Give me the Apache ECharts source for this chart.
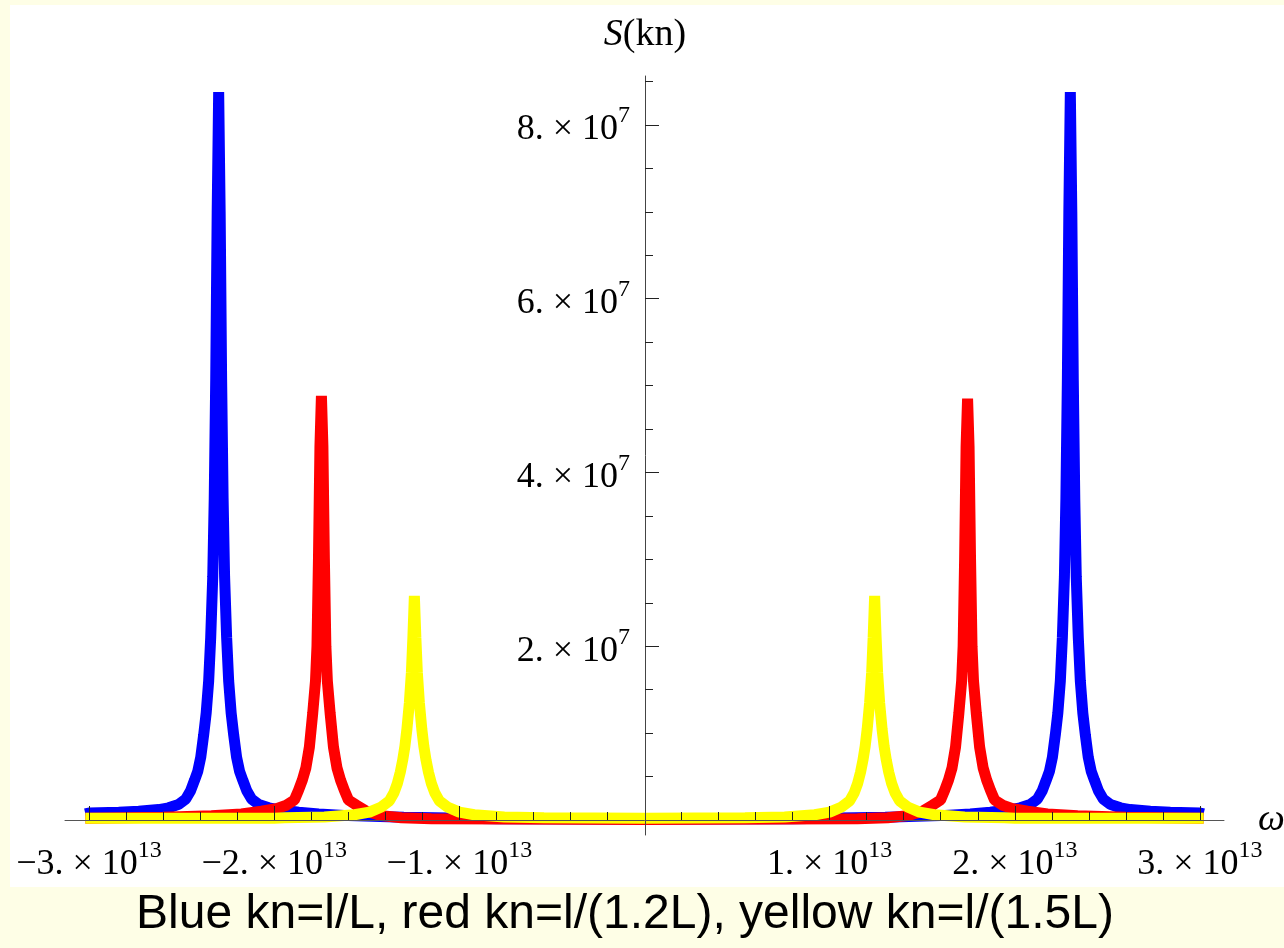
<!DOCTYPE html>
<html>
<head>
<meta charset="utf-8">
<script src="https://cdn.jsdelivr.net/npm/echarts@6/dist/echarts.min.js"></script>
<style>
  html, body { margin: 0; padding: 0; background: #fefee6; }
  #chartRoot { width: 1284px; height: 948px; }
</style>
</head>
<body>
<div id="chartRoot"></div>
<script>
// 单位：ω 以 1e13 计，S 以 1e7 计
const OMEGA_UNIT = 1e13;
const S_UNIT = 1e7;

// 蓝色 kn=l/L
const blueCurve = [
    [-3.02, 0.07], [-3.00, 0.08], [-2.84, 0.09], [-2.732, 0.10], [-2.624, 0.12], [-2.57, 0.14],
    [-2.516, 0.18], [-2.478, 0.24], [-2.451, 0.34], [-2.43, 0.46], [-2.413, 0.56], [-2.397, 0.72],
    [-2.381, 0.98], [-2.3675, 1.23], [-2.354, 1.60], [-2.343, 2.10], [-2.332, 2.80], [-2.324, 3.70],
    [-2.316, 5.06], [-2.308, 7.00], [-2.30, 8.38], [-2.292, 7.00], [-2.284, 5.06], [-2.276, 3.70],
    [-2.268, 2.80], [-2.257, 2.10], [-2.246, 1.60], [-2.2325, 1.23], [-2.219, 0.98], [-2.203, 0.72],
    [-2.187, 0.56], [-2.17, 0.46], [-2.149, 0.34], [-2.122, 0.24], [-2.084, 0.18], [-2.03, 0.14],
    [-1.976, 0.12], [-1.868, 0.09], [-1.76, 0.07], [-1.60, 0.05], [-1.30, 0.03], [-0.80, 0.015],
    [0, 0.01],
    [0.80, 0.015], [1.30, 0.03], [1.60, 0.05], [1.76, 0.07], [1.868, 0.09], [1.976, 0.12],
    [2.03, 0.14], [2.084, 0.18], [2.122, 0.24], [2.149, 0.34], [2.17, 0.46], [2.187, 0.56],
    [2.203, 0.72], [2.219, 0.98], [2.2325, 1.23], [2.246, 1.60], [2.257, 2.10], [2.268, 2.80],
    [2.276, 3.70], [2.284, 5.06], [2.292, 7.00], [2.30, 8.38], [2.308, 7.00], [2.316, 5.06],
    [2.324, 3.70], [2.332, 2.80], [2.343, 2.10], [2.354, 1.60], [2.3675, 1.23], [2.381, 0.98],
    [2.397, 0.72], [2.413, 0.56], [2.43, 0.46], [2.451, 0.34], [2.478, 0.24], [2.516, 0.18],
    [2.57, 0.14], [2.624, 0.12], [2.732, 0.10], [2.84, 0.09], [3.00, 0.08], [3.02, 0.07]
];

// 红色 kn=l/(1.2L)
const redCurve = [
    [-3.02, 0.02], [-2.60, 0.03], [-2.339, 0.05], [-2.177, 0.07], [-2.069, 0.10], [-1.988, 0.13],
    [-1.934, 0.17], [-1.891, 0.23], [-1.869, 0.34], [-1.848, 0.46], [-1.829, 0.60], [-1.81, 0.84],
    [-1.792, 1.23], [-1.777, 1.60], [-1.769, 2.00], [-1.761, 3.00], [-1.753, 4.30], [-1.745, 4.88],
    [-1.737, 4.30], [-1.729, 3.00], [-1.721, 2.00], [-1.713, 1.60], [-1.698, 1.23], [-1.68, 0.84],
    [-1.661, 0.60], [-1.642, 0.46], [-1.621, 0.34], [-1.599, 0.23], [-1.556, 0.17], [-1.502, 0.10],
    [-1.421, 0.05], [-1.313, 0.025], [-1.151, 0.015], [-0.70, 0.01], [0, 0.005],
    [0.70, 0.01], [1.151, 0.015], [1.313, 0.025], [1.421, 0.05], [1.502, 0.10], [1.556, 0.17],
    [1.599, 0.23], [1.621, 0.34], [1.642, 0.46], [1.661, 0.60], [1.68, 0.84], [1.698, 1.23],
    [1.713, 1.60], [1.721, 2.00], [1.729, 3.00], [1.737, 4.30], [1.745, 4.85], [1.753, 4.30],
    [1.761, 3.00], [1.769, 2.00], [1.777, 1.60], [1.792, 1.23], [1.81, 0.84], [1.829, 0.60],
    [1.848, 0.46], [1.869, 0.34], [1.891, 0.23], [1.934, 0.17], [1.988, 0.13], [2.069, 0.10],
    [2.177, 0.07], [2.339, 0.05], [2.60, 0.03], [3.02, 0.02]
];

// 黄色 kn=l/(1.5L)
const yellowCurve = [
    [-3.02, 0.02], [-2.00, 0.02], [-1.943, 0.025], [-1.729, 0.035], [-1.567, 0.06], [-1.486, 0.09],
    [-1.421, 0.15], [-1.378, 0.22], [-1.354, 0.31], [-1.335, 0.42], [-1.319, 0.55], [-1.306, 0.69],
    [-1.294, 0.85], [-1.283, 1.05], [-1.27, 1.35], [-1.259, 1.70], [-1.251, 2.10], [-1.243, 2.58],
    [-1.235, 2.10], [-1.227, 1.70], [-1.216, 1.35], [-1.203, 1.05], [-1.192, 0.85], [-1.18, 0.69],
    [-1.167, 0.55], [-1.151, 0.42], [-1.132, 0.31], [-1.108, 0.22], [-1.065, 0.15], [-1.00, 0.09],
    [-0.919, 0.06], [-0.757, 0.035], [-0.543, 0.025], [0, 0.02],
    [0.543, 0.025], [0.757, 0.035], [0.919, 0.06], [1.00, 0.09], [1.065, 0.15], [1.108, 0.22],
    [1.132, 0.31], [1.151, 0.42], [1.167, 0.55], [1.18, 0.69], [1.192, 0.85], [1.203, 1.05],
    [1.216, 1.35], [1.227, 1.70], [1.235, 2.10], [1.243, 2.58], [1.251, 2.10], [1.259, 1.70],
    [1.27, 1.35], [1.283, 1.05], [1.294, 0.85], [1.306, 0.69], [1.319, 0.55], [1.335, 0.42],
    [1.354, 0.31], [1.378, 0.22], [1.421, 0.15], [1.486, 0.09], [1.567, 0.06], [1.729, 0.035],
    [1.943, 0.025], [2.00, 0.02], [3.02, 0.02]
];

// 刻度
const xMajorTicks = [-3, -2, -1, 1, 2, 3];
const xMinorTicks = [-2.8, -2.6, -2.4, -2.2, -1.8, -1.6, -1.4, -1.2, -0.8, -0.6, -0.4, -0.2,
    0.2, 0.4, 0.6, 0.8, 1.2, 1.4, 1.6, 1.8, 2.2, 2.4, 2.6, 2.8];
const yMajorTicks = [2, 4, 6, 8];
const yMinorTicks = [0.5, 1, 1.5, 2.5, 3, 3.5, 4.5, 5, 5.5, 6.5, 7, 7.5, 8.5];

const caption = "Blue kn=l/L, red kn=l/(1.2L), yellow kn=l/(1.5L)";

const toReal = (list, unit) => list.map(v => v * unit);
const toPoints = curve => curve.map(p => [p[0] * OMEGA_UNIT, p[1] * S_UNIT]);

const serif = "'Liberation Serif', 'DejaVu Serif', serif";
const labelRich = {
    m: { fontFamily: serif, fontSize: 36, color: "#000", lineHeight: 52 },
    s: { fontFamily: serif, fontSize: 24, color: "#000", lineHeight: 22, verticalAlign: "top" }
};
const range = { xMin: -3.13e13, xMax: 3.13e13, yMin: -0.173e7, yMax: 8.564e7 };

// 坐标轴交于原点：用 offset 把轴移到零点处
const yAxisShift = -580;
const xAxisShift = -15;

const myChart = echarts.init(document.querySelector("#chartRoot"));

const lineSeries = (name, curve, color) => ({
    type: "line",
    name,
    data: toPoints(curve),
    showSymbol: false,
    symbol: "none",
    lineStyle: { color, width: 11 },
    xAxisIndex: 0,
    yAxisIndex: 0
});

const option = {
    animation: false,
    backgroundColor: "#fefee6",
    graphic: [
        {
            type: "rect",
            z: -10,
            shape: { x: 10, y: 5, width: 1274, height: 882 },
            style: { fill: "#ffffff" }
        },
        {
            type: "text",
            x: 625,
            y: 915,
            style: {
                text: caption,
                fontFamily: "'Liberation Sans', Arial, sans-serif",
                fontSize: 48,
                fill: "#000",
                align: "center",
                verticalAlign: "middle"
            }
        }
    ],
    grid: {
        left: 65,
        right: 60,
        top: 76,
        bottom: 113,
        outerBoundsMode: "none"
    },
    xAxis: [
        {
            type: "value",
            position: "bottom",
            offset: xAxisShift,
            min: range.xMin,
            max: range.xMax,
            z: 5,
            name: "ω",
            nameLocation: "end",
            nameGap: 34,
            nameTextStyle: { fontFamily: serif, fontStyle: "italic", fontSize: 38, color: "#000" },
            axisLine: { onZero: false, lineStyle: { color: "#555", width: 1 } },
            axisTick: { show: true, inside: true, length: 14, customValues: toReal(xMajorTicks, OMEGA_UNIT), lineStyle: { color: "#222" } },
            axisLabel: {
                show: true,
                margin: 19,
                customValues: toReal(xMajorTicks, OMEGA_UNIT),
                formatter: v => {
                    const k = Math.round(v / OMEGA_UNIT);
                    return "{m|" + (k < 0 ? "\u2212" : "") + Math.abs(k) + ". \u00d7 10}{s|13}";
                },
                rich: labelRich
            },
            splitLine: { show: false }
        },
        {
            type: "value",
            position: "bottom",
            offset: xAxisShift,
            min: range.xMin,
            max: range.xMax,
            z: 5,
            axisLine: { show: false, onZero: false },
            axisTick: { show: true, inside: true, length: 8, customValues: toReal(xMinorTicks, OMEGA_UNIT), lineStyle: { color: "#222" } },
            axisLabel: { show: false },
            splitLine: { show: false }
        }
    ],
    yAxis: [
        {
            type: "value",
            position: "left",
            offset: yAxisShift,
            min: range.yMin,
            max: range.yMax,
            z: 5,
            name: "{i|S}{n|(kn)}",
            nameLocation: "end",
            nameGap: 22,
            nameTextStyle: {
                align: "center",
                rich: {
                    i: { fontFamily: serif, fontStyle: "italic", fontSize: 38, color: "#000" },
                    n: { fontFamily: serif, fontSize: 38, color: "#000" }
                }
            },
            axisLine: { onZero: false, lineStyle: { color: "#444", width: 1 } },
            axisTick: { show: true, inside: true, length: 14, customValues: toReal(yMajorTicks, S_UNIT), lineStyle: { color: "#222" } },
            axisLabel: {
                show: true,
                margin: 15,
                padding: [10, 0, 0, 0],
                customValues: toReal(yMajorTicks, S_UNIT),
                formatter: v => "{m|" + Math.round(v / S_UNIT) + ". \u00d7 10}{s|7}",
                rich: labelRich
            },
            splitLine: { show: false }
        },
        {
            type: "value",
            position: "left",
            offset: yAxisShift,
            min: range.yMin,
            max: range.yMax,
            z: 5,
            axisLine: { show: false, onZero: false },
            axisTick: { show: true, inside: true, length: 8, customValues: toReal(yMinorTicks, S_UNIT), lineStyle: { color: "#222" } },
            axisLabel: { show: false },
            splitLine: { show: false }
        }
    ],
    series: [
        lineSeries("blue", blueCurve, "#0000ff"),
        lineSeries("red", redCurve, "#ff0000"),
        lineSeries("yellow", yellowCurve, "#ffff00")
    ]
};
myChart.setOption(option, true);
</script>
</body>
</html>
